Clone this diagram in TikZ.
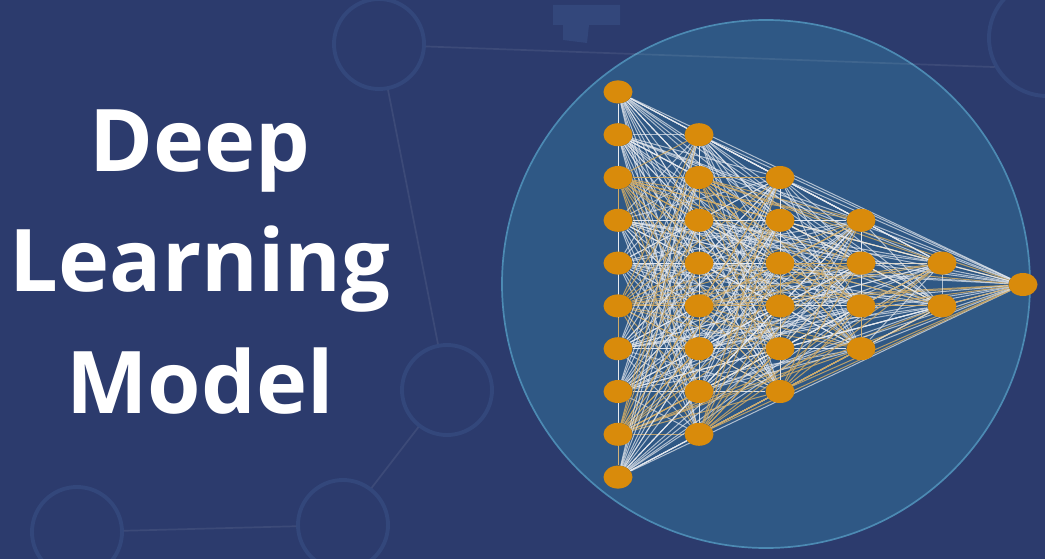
\documentclass[tikz,border=0pt]{standalone}
\usepackage{fontspec}
\setmainfont{Open Sans}
\usetikzlibrary{shapes.geometric}

\definecolor{bgblue}{HTML}{2C3B6D}
\definecolor{ringblue}{HTML}{33477B}
\definecolor{discblue}{HTML}{2F5885}
\definecolor{discrim}{HTML}{4C8AB3}
\definecolor{neuronor}{HTML}{D98B0B}
\definecolor{wiretan}{HTML}{CFAA66}
\definecolor{wirepale}{HTML}{E8EBF0}

\pgfdeclarelayer{back}
\pgfdeclarelayer{wires}
\pgfsetlayers{back,wires,main}

\tikzset{
  neuron/.style={ellipse, fill=neuronor, minimum width=29pt, minimum height=23pt, inner sep=0pt},
  ring/.style={circle, draw=ringblue, line width=3.9pt, minimum size=90pt, inner sep=0pt},
  link/.style={draw=white, opacity=0.08, line width=1.7pt},
  wire tan/.style={draw=wiretan, line width=1pt, opacity=0.85},
  wire pale/.style={draw=wirepale, line width=1pt, opacity=0.7},
  title/.style={text=white, anchor=base, font=\fontsize{86.5}{100}\selectfont\bfseries},
}

\begin{document}
\begin{tikzpicture}[x=1pt,y=-1pt]
  \useasboundingbox (0,0) rectangle (1045,559);
  \begin{pgfonlayer}{back}
    \clip (0,0) rectangle (1045,559);
    \fill[bgblue] (0,0) rectangle (1045,559);
    \node[circle, fill=discblue, draw=discrim, line width=1.7pt, minimum size=528pt, inner sep=0pt] (disc) at (766,284) {};
    % faint rings in the background
    \node[ring] (r1) at (379,44) {};
    \node[ring] (r2) at (447,390) {};
    \node[ring] (r3) at (77,532) {};
    \node[ring] (r4) at (343,525) {};
    \node[ring, minimum size=116pt] (r5) at (1047,38) {};
    \draw[link] (r1) -- (r2);
    \draw[link] (r2) -- (r4);
    \draw[link] (r4) -- (r3);
    \draw[link] (r1.-3) -- (r5.209);
    \fill[ringblue] (553,5) -- (620,5) -- (620,25) -- (589,25) -- (587,43) -- (563,40) -- (563,25) -- (553,25) -- cycle;
  \end{pgfonlayer}

  % layers of the net, numbered v1..v31
  \foreach \l/\n/\s in {1/10/0,2/8/10,3/6/18,4/4/24,5/2/28,6/1/30}{
    \foreach \k in {1,...,\n}{
      \pgfmathtruncatemacro\idx{\s+\k}
      \node[neuron] (v\idx) at ({618+81*(\l-1)},{284.5+42.8*(\k-(\n+1)/2)}) {};
    }
  }

  \begin{pgfonlayer}{wires}
    \foreach \i in {1,...,30}{
      \pgfmathtruncatemacro\nxt{\i+1}
      \foreach \j in {\nxt,...,31}{
        \pgfmathtruncatemacro\tone{mod(\i*7+\j*3,3)}
        \ifnum\tone=0 \draw[wire tan] (v\i) -- (v\j); \else \draw[wire pale] (v\i) -- (v\j); \fi
      }
    }
  \end{pgfonlayer}

  \node[title] (t1) at (200,172) {Deep};
  \node[title] (t2) at (200,291) {Learning};
  \node[title] (t3) at (200,413) {Model};
\end{tikzpicture}
\end{document}
